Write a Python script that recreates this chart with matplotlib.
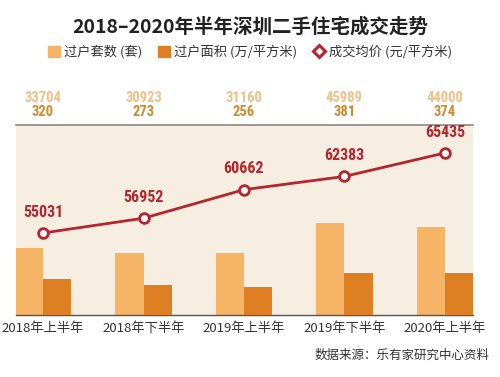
import matplotlib
matplotlib.use("Agg")
import matplotlib.pyplot as plt
from matplotlib.lines import Line2D
from matplotlib.patches import Patch
import numpy as np

plt.rcParams['font.family'] = ['Noto Sans CJK SC', 'DejaVu Sans']

categories = ["2018年上半年", "2018年下半年", "2019年上半年", "2019年下半年", "2020年上半年"]
units = [33704, 30923, 31160, 45989, 44000]
area = [320, 273, 256, 381, 374]
price = [55031, 56952, 60662, 62383, 65435]

c_light = "#F5B466"
c_dark = "#DD7F22"
c_red = "#B5252E"
c_bg = "#F7EEE2"
num_font = ["Roboto Condensed", "DejaVu Sans"]

fig = plt.figure(figsize=(5, 3.77), dpi=100)
ax = fig.add_axes([0.032, 0.1645, 0.914, 0.504])
ax.set_facecolor(c_bg)
x = np.arange(len(categories))
w = 0.28
ax.bar(x - w / 2, units, width=w, color=c_light, zorder=2)
ax.set_ylim(0, 95000)
ax.set_xlim(-0.27, 4.28)

ax2 = ax.twinx()
ax2.bar(x + w / 2, area, width=w, color=c_dark, zorder=2)
ax2.set_ylim(0, 1710)

ax3 = ax.twinx()
ax3.plot(x, price, color=c_red, lw=2, marker="o", ms=7, mfc="white",
         mec=c_red, mew=2, zorder=5)
ax3.set_ylim(44368, 69075)
for xi, p in zip(x, price):
    ax3.annotate(f"{p}", (xi, p), xytext=(0, 15), textcoords="offset points",
                 ha="center", va="center", color=c_red, fontsize=11.5,
                 fontweight="bold", family=num_font)

for a in (ax, ax2, ax3):
    a.set_yticks([])
    for s in ("left", "right", "top", "bottom"):
        a.spines[s].set_visible(False)
ax.spines["top"].set_visible(True)
ax.spines["top"].set_color("#8a8a8a")
ax.spines["top"].set_linewidth(1.2)
ax.spines["bottom"].set_visible(True)
ax.spines["bottom"].set_color("#555555")
ax.spines["bottom"].set_linewidth(1.0)

ax.set_xticks(x)
ax.set_xticklabels(categories, fontsize=9.5, color="#333333")
ax.tick_params(axis="x", length=0, pad=5)

# value labels above plot area
for xi, u, ar in zip(x, units, area):
    ax.annotate(f"{u}", (xi, 1), xycoords=("data", "axes fraction"),
                xytext=(0, 19.5), textcoords="offset points", ha="center",
                va="center", color="#EFC088", fontsize=10.5, fontweight="bold",
                family=num_font)
    ax.annotate(f"{ar}", (xi, 1), xycoords=("data", "axes fraction"),
                xytext=(0, 9), textcoords="offset points", ha="center",
                va="center", color="#D08A2C", fontsize=10.5, fontweight="bold",
                family=num_font)

fig.text(0.5, 0.928, "2018–2020年半年深圳二手住宅成交走势", ha="center",
         va="center", fontsize=14, fontweight="bold", color="#222222")

handles = [
    Patch(color=c_light, label="过户套数 (套)"),
    Patch(color=c_dark, label="过户面积 (万/平方米)"),
    Line2D([], [], color=c_red, marker="D", ms=6, mfc="white", mec=c_red,
           mew=2.2, lw=0, label="成交均价 (元/平方米)"),
]
fig.legend(handles=handles, loc="center", bbox_to_anchor=(0.5, 0.862),
           ncol=3, frameon=False, fontsize=9.5, handlelength=0.9,
           handleheight=0.9, handletextpad=0.3, columnspacing=1.2,
           labelcolor="#333333")

fig.text(0.98, 0.058, "数据来源：乐有家研究中心资料", ha="right", va="center",
         fontsize=9, color="#333333")

fig.savefig("out.png", dpi=100, facecolor="white")
